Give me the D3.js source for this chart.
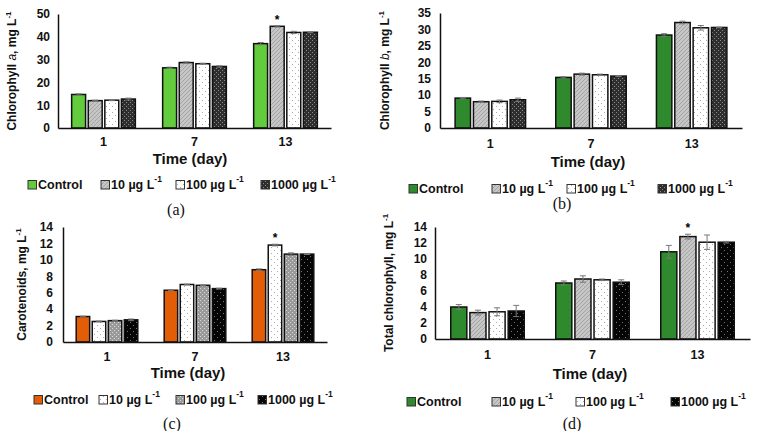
<!DOCTYPE html>
<html>
<head>
<meta charset="utf-8">
<script src="https://cdn.jsdelivr.net/npm/d3@7"></script>
<style>
  body { margin: 0; background: #fff; }
  svg { display: block; font-family: "Liberation Sans", Arial, sans-serif; }
</style>
</head>
<body>
<svg id="chart" width="757" height="431"></svg>
<script>
// shared categories
var days = ["1", "7", "13"];
var legendNames = ["Control", "10 µg L", "100 µg L", "1000 µg L"];

// (a) chlorophyll a
var chlA = [[14.7, 26.4, 37.0], [12.0, 28.7, 44.6], [12.2, 28.2, 41.9], [12.7, 27.0, 42.0]];
var chlAErr = [[0.3, 0.3, 0.5], [0.2, 0.3, 0.3], [0.2, 0.2, 0.5], [0.4, 0.3, 0.2]];
var chlATicks = [0, 10, 20, 30, 40, 50];

// (b) chlorophyll b
var chlB = [[9.1, 15.4, 28.3], [8.0, 16.4, 32.1], [8.1, 16.2, 30.5], [8.6, 15.8, 30.6]];
var chlBErr = [[0.2, 0.2, 0.4], [0.2, 0.3, 0.4], [0.4, 0.2, 0.7], [0.5, 0.1, 0.1]];
var chlBTicks = [0, 5, 10, 15, 20, 25, 30, 35];

// (c) carotenoids
var caro = [[3.1, 6.3, 8.8], [2.5, 7.0, 11.8], [2.6, 6.9, 10.7], [2.7, 6.5, 10.7]];
var caroErr = [[0.05, 0.05, 0.1], [0.05, 0.05, 0.1], [0.05, 0.05, 0.15], [0.1, 0.05, 0.05]];
var caroTicks = [0, 2, 4, 6, 8, 10, 12, 14];

// (d) total chlorophyll
var total = [[4.0, 7.0, 10.9], [3.3, 7.5, 12.8], [3.4, 7.4, 12.1], [3.5, 7.1, 12.1]];
var totalErr = [[0.3, 0.25, 0.8], [0.3, 0.4, 0.3], [0.5, 0.1, 0.9], [0.7, 0.3, 0.1]];
var totalTicks = [0, 2, 4, 6, 8, 10, 12, 14];

var svg = d3.select("#chart");
var defs = svg.append("defs");

// fill patterns like the excel ones
function pattern(id, bg, draw, size) {
  var p = defs.append("pattern")
    .attr("id", id)
    .attr("patternUnits", "userSpaceOnUse")
    .attr("width", size).attr("height", size);
  p.append("rect").attr("width", size).attr("height", size).attr("fill", bg);
  draw(p);
}
pattern("hatchGray", "#c6c6c6", function (p) {
  p.append("path").attr("d", "M0,4 L4,0 M-1,1 L1,-1 M3,5 L5,3")
    .attr("stroke", "#a4a4a4").attr("stroke-width", 1);
}, 4);
pattern("dotWhite", "#ffffff", function (p) {
  p.append("rect").attr("x", 1).attr("y", 1).attr("width", 1).attr("height", 1).attr("fill", "#aaa");
  p.append("rect").attr("x", 4).attr("y", 4).attr("width", 1).attr("height", 1).attr("fill", "#aaa");
}, 6);
pattern("checkDark", "#2e2e2e", function (p) {
  p.append("rect").attr("x", 0).attr("y", 0).attr("width", 1).attr("height", 1).attr("fill", "#8a8a8a");
  p.append("rect").attr("x", 2).attr("y", 2).attr("width", 1).attr("height", 1).attr("fill", "#8a8a8a");
}, 4);
pattern("checkGray", "#9a9a9a", function (p) {
  p.append("rect").attr("x", 0).attr("y", 0).attr("width", 1).attr("height", 1).attr("fill", "#d8d8d8");
  p.append("rect").attr("x", 2).attr("y", 2).attr("width", 1).attr("height", 1).attr("fill", "#d8d8d8");
}, 4);
pattern("dotBlack", "#050505", function (p) {
  p.append("rect").attr("x", 1).attr("y", 1).attr("width", 1).attr("height", 1).attr("fill", "#777");
  p.append("rect").attr("x", 4).attr("y", 4).attr("width", 1).attr("height", 1).attr("fill", "#777");
}, 6);

function drawPanel(cfg) {
  var g = svg.append("g");

  var x0 = d3.scaleBand().domain(days).range([cfg.x0, cfg.x1]);
  var groupW = x0.bandwidth() * 0.7;
  var x1 = d3.scaleBand().domain(d3.range(4))
    .range([(x0.bandwidth() - groupW) / 2, (x0.bandwidth() + groupW) / 2])
    .paddingInner(0.16);
  var y = d3.scaleLinear().domain([0, cfg.ticks[cfg.ticks.length - 1]]).range([cfg.y0, cfg.y1]);

  var rows = [];
  cfg.values.forEach(function (vals, s) {
    vals.forEach(function (v, i) {
      rows.push({ s: s, day: days[i], v: v, e: cfg.errs[s][i] });
    });
  });

  g.selectAll("rect.bar")
    .data(rows)
    .enter().append("rect")
    .attr("class", "bar")
    .attr("x", function (d) { return x0(d.day) + x1(d.s); })
    .attr("y", function (d) { return y(d.v); })
    .attr("width", x1.bandwidth())
    .attr("height", function (d) { return y(0) - y(d.v); })
    .attr("fill", function (d) { return cfg.fills[d.s]; })
    .attr("stroke", "#111")
    .attr("stroke-width", 1.5);

  // error bars
  var eb = g.selectAll("g.err").data(rows).enter().append("g")
    .attr("stroke", "#777").attr("stroke-width", 1);
  eb.append("line")
    .attr("x1", function (d) { return x0(d.day) + x1(d.s) + x1.bandwidth() / 2; })
    .attr("x2", function (d) { return x0(d.day) + x1(d.s) + x1.bandwidth() / 2; })
    .attr("y1", function (d) { return y(d.v + d.e); })
    .attr("y2", function (d) { return y(d.v - d.e); });
  ["+", "-"].forEach(function (sign) {
    eb.append("line")
      .attr("x1", function (d) { return x0(d.day) + x1(d.s) + x1.bandwidth() / 2 - 3; })
      .attr("x2", function (d) { return x0(d.day) + x1(d.s) + x1.bandwidth() / 2 + 3; })
      .attr("y1", function (d) { return y(sign == "+" ? d.v + d.e : d.v - d.e); })
      .attr("y2", function (d) { return y(sign == "+" ? d.v + d.e : d.v - d.e); });
  });

  // star on the 10 µg bar of day 13
  if (cfg.star) {
    var sv = cfg.values[1][2] + cfg.errs[1][2];
    g.append("text")
      .attr("x", x0("13") + x1(1) + x1.bandwidth() / 2)
      .attr("y", y(sv) - 2)
      .attr("text-anchor", "middle")
      .attr("font-size", 12).attr("font-weight", "bold")
      .text("*");
  }

  // axes
  var yAxis = d3.axisLeft(y).tickValues(cfg.ticks).tickSize(0).tickPadding(cfg.tickPad);
  var ya = g.append("g").attr("transform", "translate(" + cfg.x0 + ",0)").call(yAxis);
  ya.select(".domain").attr("stroke", "#111").attr("stroke-width", 1.5);
  ya.selectAll("text").attr("font-size", 12).attr("font-weight", "bold")
    .attr("font-family", "Liberation Sans, Arial, sans-serif").attr("fill", "#111");

  var xAxis = d3.axisBottom(x0).tickSize(0).tickPadding(cfg.xPad);
  var xa = g.append("g").attr("transform", "translate(0," + cfg.y0 + ")").call(xAxis);
  xa.select(".domain").attr("stroke", "#111").attr("stroke-width", 1.5);
  xa.selectAll("text").attr("font-size", 12.5).attr("font-weight", "bold")
    .attr("font-family", "Liberation Sans, Arial, sans-serif").attr("fill", "#111");

  // y title
  var yt = g.append("text")
    .attr("transform", "translate(" + cfg.yTitleX + "," + ((cfg.y0 + cfg.y1) / 2) + ") rotate(-90)")
    .attr("text-anchor", "middle")
    .attr("font-size", 12).attr("font-weight", "bold").attr("fill", "#111");
  cfg.yTitle.forEach(function (part) {
    var t = yt.append("tspan").text(part.t);
    if (part.italic) t.attr("font-style", "italic").attr("font-weight", "normal");
    if (part.sup) t.attr("font-size", 8).attr("dy", -5);
  });

  // x title
  g.append("text")
    .attr("x", cfg.xTitleX).attr("y", cfg.xTitleY)
    .attr("text-anchor", "middle")
    .attr("font-size", 15).attr("font-weight", "bold").attr("fill", "#111")
    .text("Time (day)");

  // legend
  var lg = g.selectAll("g.leg").data(legendNames).enter().append("g")
    .attr("transform", function (d, i) { return "translate(" + cfg.legendX[i] + "," + cfg.legendY + ")"; });
  lg.append("rect")
    .attr("x", 0).attr("y", -8.5).attr("width", 8.5).attr("height", 8.5)
    .attr("fill", function (d, i) { return cfg.fills[i]; })
    .attr("stroke", "#333").attr("stroke-width", 1);
  var lt = lg.append("text")
    .attr("x", 10).attr("y", 0)
    .attr("font-size", 12.5).attr("font-weight", "bold").attr("fill", "#111");
  lt.append("tspan").text(function (d) { return d; });
  lt.filter(function (d, i) { return i > 0; })
    .append("tspan").attr("font-size", 8.5).attr("dy", -7).text("-1");

  // caption
  g.append("text")
    .attr("x", cfg.capX).attr("y", cfg.capY)
    .attr("text-anchor", "middle")
    .attr("font-family", "Liberation Serif, Times New Roman, serif")
    .attr("font-size", 16).attr("fill", "#111")
    .text(cfg.caption);
}

drawPanel({
  values: chlA, errs: chlAErr, ticks: chlATicks,
  fills: ["#63cc3c", "url(#hatchGray)", "url(#dotWhite)", "url(#checkDark)"],
  x0: 58, x1: 331, y0: 128, y1: 14, tickPad: 8, xPad: 9,
  yTitleX: 16, yTitle: [{ t: "Chlorophyll " }, { t: "a", italic: true }, { t: ", mg L" }, { t: "-1", sup: true }],
  xTitleX: 190, xTitleY: 164, star: true,
  legendX: [28, 101, 176, 261], legendY: 189,
  capX: 176, capY: 215, caption: "(a)"
});

drawPanel({
  values: chlB, errs: chlBErr, ticks: chlBTicks,
  fills: ["#2e8a2c", "url(#hatchGray)", "url(#dotWhite)", "url(#checkDark)"],
  x0: 440, x1: 742, y0: 128, y1: 13, tickPad: 9, xPad: 11,
  yTitleX: 389, yTitle: [{ t: "Chlorophyll " }, { t: "b", italic: true }, { t: ", mg L" }, { t: "-1", sup: true }],
  xTitleX: 588, xTitleY: 167, star: false,
  legendX: [409, 492, 567, 658], legendY: 193,
  capX: 562, capY: 209, caption: "(b)"
});

drawPanel({
  values: caro, errs: caroErr, ticks: caroTicks,
  fills: ["#e35d06", "url(#dotWhite)", "url(#checkGray)", "url(#dotBlack)"],
  x0: 63, x1: 327, y0: 342, y1: 227, tickPad: 10, xPad: 10,
  yTitleX: 26, yTitle: [{ t: "Carotenoids, mg L" }, { t: "-1", sup: true }],
  xTitleX: 188, xTitleY: 378, star: true,
  legendX: [34, 99, 176, 258], legendY: 404,
  capX: 172, capY: 429, caption: "(c)"
});

drawPanel({
  values: total, errs: totalErr, ticks: totalTicks,
  fills: ["#2e8a2c", "url(#hatchGray)", "url(#dotWhite)", "url(#dotBlack)"],
  x0: 435, x1: 750, y0: 339, y1: 227, tickPad: 8, xPad: 11,
  yTitleX: 393, yTitle: [{ t: "Total chlorophyll, mg L" }, { t: "-1", sup: true }],
  xTitleX: 590, xTitleY: 379, star: true,
  legendX: [407, 492, 576, 671], legendY: 406,
  capX: 572, capY: 429, caption: "(d)"
});
</script>
</body>
</html>
